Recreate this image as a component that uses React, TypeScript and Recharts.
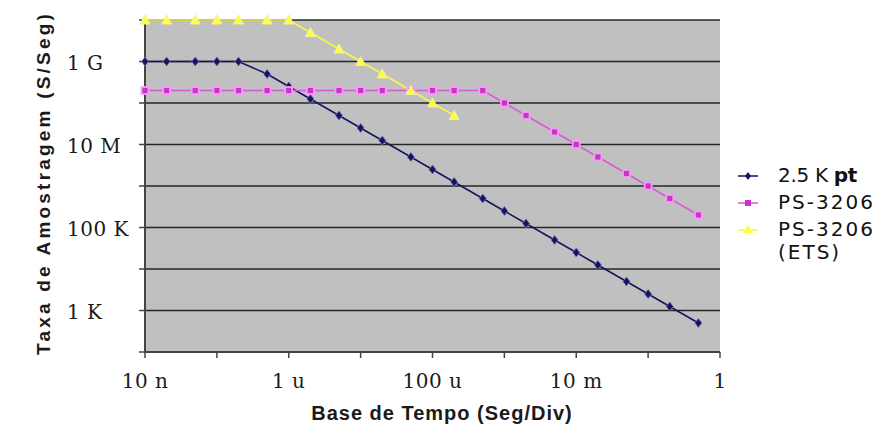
import { LineChart, Line, XAxis, YAxis, CartesianGrid, Legend } from 'recharts';

// time base (s/div), 1-2-5 sequence
const timeBase = [
  1e-8, 2e-8, 5e-8, 1e-7, 2e-7, 5e-7, 1e-6, 2e-6, 5e-6, 1e-5, 2e-5, 5e-5,
  1e-4, 2e-4, 5e-4, 1e-3, 2e-3, 5e-3, 1e-2, 2e-2, 5e-2, 0.1, 0.2, 0.5,
];

// sample rate (S/s)
const rate25kpt = [
  1e9, 1e9, 1e9, 1e9, 1e9, 5e8, 2.5e8, 1.25e8, 5e7, 2.5e7, 1.25e7, 5e6,
  2.5e6, 1.25e6, 5e5, 2.5e5, 1.25e5, 5e4, 2.5e4, 1.25e4, 5e3, 2.5e3, 1.25e3, 500,
];
const ratePs3206 = [
  2e8, 2e8, 2e8, 2e8, 2e8, 2e8, 2e8, 2e8, 2e8, 2e8, 2e8, 2e8,
  2e8, 2e8, 2e8, 1e8, 5e7, 2e7, 1e7, 5e6, 2e6, 1e6, 5e5, 2e5,
];
const ratePs3206Ets = [
  1e10, 1e10, 1e10, 1e10, 1e10, 1e10, 1e10, 5e9, 2e9, 1e9, 5e8, 2e8, 1e8, 5e7,
];

const xTicks = [1e-8, 1e-7, 1e-6, 1e-5, 1e-4, 1e-3, 1e-2, 1e-1, 1];
const xTickLabels = ['10 n', '', '1 u', '', '100 u', '', '10 m', '', '1'];
const yTicks = [1e2, 1e3, 1e4, 1e5, 1e6, 1e7, 1e8, 1e9, 1e10];
const yTickLabels = ['', '1 K', '', '100 K', '', '10 M', '', '1 G', ''];

const toPoints = (vals: number[]) => vals.map((v, i) => ({ t: timeBase[i], v }));

const BLUE = '#14145e';
const PINK = '#d65ad6';
const YELLOW = '#f8f84a';

const tickFont = { fontFamily: 'DejaVu Serif', fontSize: 20, fill: '#1a1a1a', letterSpacing: 0.5 };

const XTick = (props: any) => {
  const i = xTicks.indexOf(props.payload.value);
  return (
    <text x={props.x} y={388} textAnchor="middle" {...tickFont}>
      {xTickLabels[i]}
    </text>
  );
};

const YTick = (props: any) => {
  const i = yTicks.indexOf(props.payload.value);
  return (
    <text x={67} y={props.y + 1} dy="0.36em" textAnchor="start" {...tickFont}>
      {yTickLabels[i]}
    </text>
  );
};

const diamond = (props: any) => {
  const { cx, cy, index } = props;
  if (cx == null || cy == null) return <g key={index} />;
  return (
    <polygon key={index} points={`${cx},${cy - 4.5} ${cx + 3.5},${cy} ${cx},${cy + 4.5} ${cx - 3.5},${cy}`}
      fill={BLUE} stroke="#7070b8" strokeWidth={0.8} />
  );
};

const square = (props: any) => {
  const { cx, cy, index } = props;
  if (cx == null || cy == null) return <g key={index} />;
  return <rect key={index} x={cx - 3.5} y={cy - 3.5} width={7} height={7} fill="#c833c8" stroke="#f0a0f0" strokeWidth={1.8} />;
};

const triangle = (props: any) => {
  const { cx, cy, index } = props;
  if (cx == null || cy == null) return <g key={index} />;
  return (
    <polygon key={index} points={`${cx},${cy - 5} ${cx + 5},${cy + 4} ${cx - 5},${cy + 4}`}
      fill="#ffff40" stroke="#eeeea0" strokeWidth={1} />
  );
};

const legendText = { fontFamily: 'DejaVu Sans', fontSize: 20, color: '#111', whiteSpace: 'nowrap' as const };

const LegendIcon = ({ kind }: { kind: string }) => (
  <svg width={43} height={27} style={{ flex: 'none' }}>
    {kind === 'blue' && (
      <>
        <line x1={3} y1={14} x2={23} y2={14} stroke={BLUE} strokeWidth={1.5} />
        <polygon points="13,10 16,14 13,18 10,14" fill={BLUE} />
      </>
    )}
    {kind === 'pink' && (
      <>
        <line x1={3} y1={14} x2={23} y2={14} stroke={PINK} strokeWidth={1.5} />
        <rect x={10} y={11} width={6} height={6} fill="#c833c8" />
      </>
    )}
    {kind === 'yellow' && (
      <>
        <line x1={3} y1={14} x2={23} y2={14} stroke={YELLOW} strokeWidth={1.5} />
        <polygon points="13,9 18,17 8,17" fill="#ffff40" />
      </>
    )}
  </svg>
);

const renderLegend = () => (
  <div style={legendText}>
    <div style={{ display: 'flex', height: 27, alignItems: 'center' }}>
      <LegendIcon kind="blue" />
      <span style={{ letterSpacing: -0.3, lineHeight: '27px' }}>2.5 K <b>pt</b></span>
    </div>
    <div style={{ display: 'flex', height: 27, alignItems: 'center' }}>
      <LegendIcon kind="pink" />
      <span style={{ letterSpacing: 2, lineHeight: '27px' }}>PS-3206</span>
    </div>
    <div style={{ display: 'flex', alignItems: 'flex-start' }}>
      <LegendIcon kind="yellow" />
      <div>
        <div style={{ letterSpacing: 2, lineHeight: '27px' }}>PS-3206</div>
        <div style={{ letterSpacing: 2, lineHeight: '18px' }}>(ETS)</div>
      </div>
    </div>
  </div>
);

export default function App() {
  return (
    <div style={{ position: 'absolute', left: 0, top: 0, width: 877, height: 425, background: '#fff', overflow: 'hidden' }}>
      <LineChart width={877} height={425} margin={{ top: 20, right: 157, bottom: 0, left: 0 }}>
        <CartesianGrid vertical={false} fill="#c0c0c0" fillOpacity={1} stroke="#262626" strokeWidth={1.6} />
        <XAxis
          type="number"
          dataKey="t"
          scale="log"
          domain={[1e-8, 1]}
          ticks={xTicks}
          interval={0}
          height={73}
          tickSize={6}
          axisLine={{ stroke: '#444', strokeWidth: 2 }}
          tickLine={{ stroke: '#444', strokeWidth: 1.5 }}
          tick={<XTick />}
          label={() => (
            <text x={442} y={420} textAnchor="middle" fontFamily="Liberation Sans" fontWeight="bold" fontSize={20} letterSpacing={1} fill="#1a1a1a">
              Base de Tempo (Seg/Div)
            </text>
          )}
        />
        <YAxis
          type="number"
          dataKey="v"
          scale="log"
          domain={[1e2, 1e10]}
          ticks={yTicks}
          interval={0}
          width={145}
          tickSize={6}
          axisLine={{ stroke: '#444', strokeWidth: 2 }}
          tickLine={{ stroke: '#444', strokeWidth: 1.5 }}
          tick={<YTick />}
          label={() => (
            <text x={43} y={183} transform="rotate(-90, 43, 183)" dy="0.35em" textAnchor="middle" fontFamily="Liberation Sans" fontWeight="bold" fontSize={19} letterSpacing={3.2} fill="#1a1a1a">
              Taxa de Amostragem (S/Seg)
            </text>
          )}
        />
        <Legend
          layout="vertical"
          align="center"
          verticalAlign="middle"
          content={renderLegend}
          wrapperStyle={{ left: 735, top: 162, width: 142 }}
        />
        <Line data={toPoints(rate25kpt)} dataKey="v" name="2.5 K pt" type="linear" stroke={BLUE} strokeWidth={1.5} dot={diamond} isAnimationActive={false} />
        <Line data={toPoints(ratePs3206)} dataKey="v" name="PS-3206" type="linear" stroke={PINK} strokeWidth={1.5} dot={square} isAnimationActive={false} />
        <Line data={toPoints(ratePs3206Ets)} dataKey="v" name="PS-3206 (ETS)" type="linear" stroke={YELLOW} strokeWidth={1.5} dot={triangle} isAnimationActive={false} />
      </LineChart>
    </div>
  );
}
